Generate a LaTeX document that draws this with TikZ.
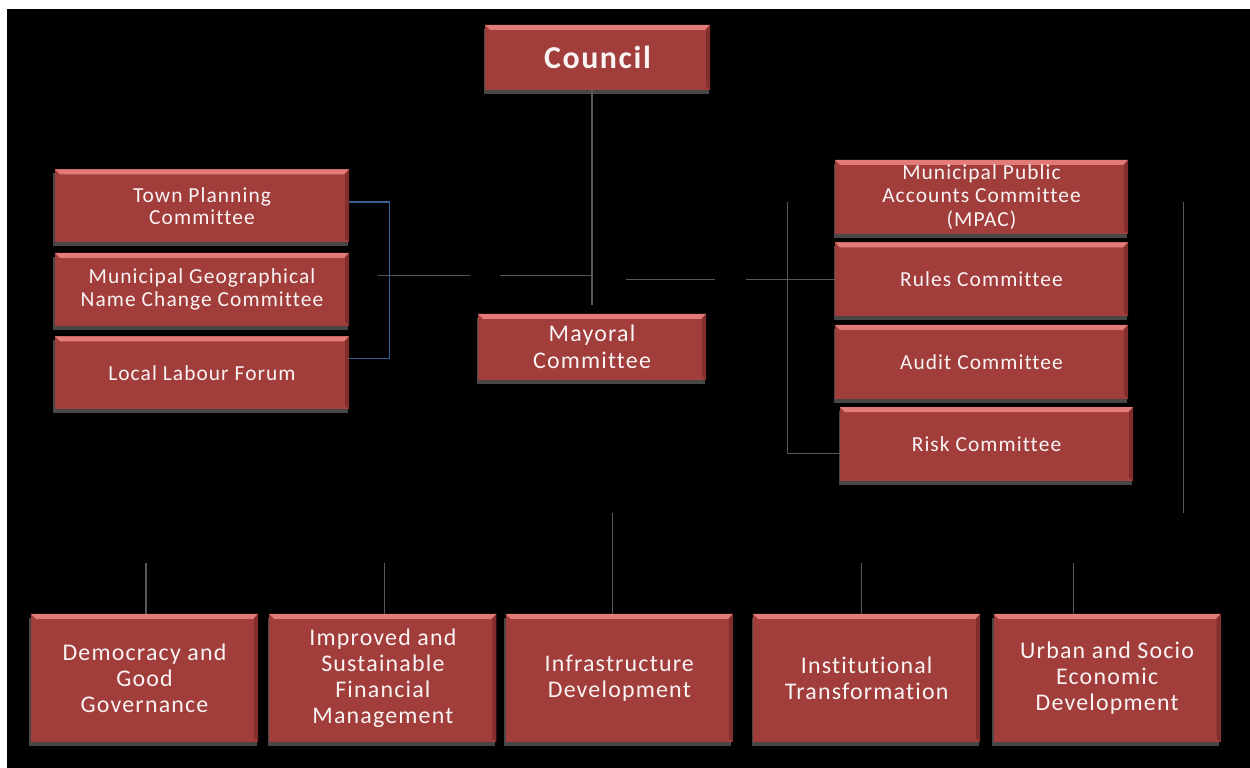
\documentclass[tikz,border=0pt]{standalone}
\usepackage{fontspec}
\setmainfont{Carlito}
\newfontfamily\orgfont[LetterSpace=5, Ligatures=NoCommon]{Carlito}
\usetikzlibrary{positioning, shadows}
\definecolor{boxred}{RGB}{161,62,60}
\definecolor{bevlight}{RGB}{226,122,119}
\definecolor{bevdark}{RGB}{130,46,45}
\definecolor{boxtext}{RGB}{250,243,243}
\definecolor{linkgray}{RGB}{88,88,88}
\definecolor{linkblue}{RGB}{55,96,146}
\tikzset{
box/.style={fill=boxred, text=boxtext, align=center, inner sep=1bp,
  drop shadow={shadow xshift=-1.5bp, shadow yshift=-4bp, fill=black!72!white, opacity=1}, % grey edge under each box
  path picture={
    \fill[bevlight] (path picture bounding box.north west) -- (path picture bounding box.north east)
      -- ([shift={(-5bp,-5bp)}]path picture bounding box.north east) -- ([shift={(5bp,-5bp)}]path picture bounding box.north west) -- cycle;
    \fill[bevdark] (path picture bounding box.north east) -- (path picture bounding box.south east)
      -- ([shift={(-4bp,4bp)}]path picture bounding box.south east) -- ([shift={(-4bp,-5bp)}]path picture bounding box.north east) -- cycle;
  }}, % bevelled top and right edge
head/.style={box, minimum width=225bp, minimum height=65bp, font=\orgfont\bfseries\fontsize{32}{36}\selectfont},
mayoral/.style={box, minimum width=228bp, minimum height=66bp, font=\orgfont\fontsize{24}{27}\selectfont},
committee/.style={box, minimum width=294bp, minimum height=73bp, font=\orgfont\fontsize{21.5}{22.5}\selectfont},
side/.style={box, minimum width=293bp, minimum height=74bp, font=\orgfont\fontsize{21.5}{24}\selectfont},
goal/.style={box, minimum width=227bp, minimum height=128bp, font=\orgfont\fontsize{24}{26}\selectfont},
link/.style={draw=linkgray, line width=1.3bp}, % plain connector
bracket/.style={draw=linkblue, line width=1.3bp}, % blue bracket on the left
}

\begin{document}
\begin{tikzpicture}[x=1bp, y=1bp]

            \useasboundingbox (0,0) rectangle (1250,768);
            \fill[white] (0,0) rectangle (1250,768);
            \fill[black] (7,0) rectangle (1250,759);

            \node[head] (council) at (597.5,710.5) {Council};
            \node[mayoral] (mayor) at (592,421) {Mayoral\\Committee};

            \node[committee] (tp) at (202,562) {Town Planning\\Committee};
            \node[committee, below=10bp of tp] (mg) {Municipal Geographical\\Name Change Committee};
            \node[committee, below=10bp of mg] (llf) {Local Labour Forum};

            \node[side] (mpac) at (981.5,571) {Municipal Public\\Accounts Committee\\(MPAC)};
            \node[side, below=8bp of mpac] (rules) {Rules Committee};
            \node[side, below=8bp of rules] (audit) {Audit Committee};
            \node[side, below=8bp of audit, xshift=5bp] (risk) {Risk Committee};

            \node[goal] (dem) at (144.5,90) {Democracy and\\Good\\Governance};
            \node[goal, right=11bp of dem] (fin) {Improved and\\Sustainable\\Financial\\Management};
            \node[goal, right=9bp of fin] (infra) {Infrastructure\\Development};
            \node[goal, right=20bp of infra] (inst) {Institutional\\Transformation};
            \node[goal, right=13bp of inst] (urban) {Urban and Socio\\Economic\\Development};

            \coordinate (hub) at ([yshift=38bp]mayor.north);

            \draw[link] (council.south -| mayor.north) -- ([yshift=9bp]mayor.north);
            \draw[link, dash pattern=on 92bp off 30bp] (hub) -- ++(-214,0);
            \draw[link, dash pattern=on 89bp off 31bp] (rules.west) -- ++(-212,0);
            \draw[bracket] ([yshift=4bp]tp.east) -- ++(40,0) |- ([yshift=14bp]llf.east);
            \draw[link] ([shift={(-47bp,-5bp)}]mpac.west) |- ([yshift=-9bp]risk.west);
            \draw[link] ([shift={(55bp,-5bp)}]mpac.east) -- ++(0,-311);

            \draw[link] ([xshift=1.5bp]dem.north) -- ++(0,51)
                        ([xshift=1.5bp]fin.north) -- ++(0,51)
                        ([xshift=-6.5bp]infra.north) -- ++(0,101)
                        ([xshift=-5.5bp]inst.north) -- ++(0,51)
                        ([xshift=-33.5bp]urban.north) -- ++(0,51)
                        ;
        \end{tikzpicture}
\end{document}
